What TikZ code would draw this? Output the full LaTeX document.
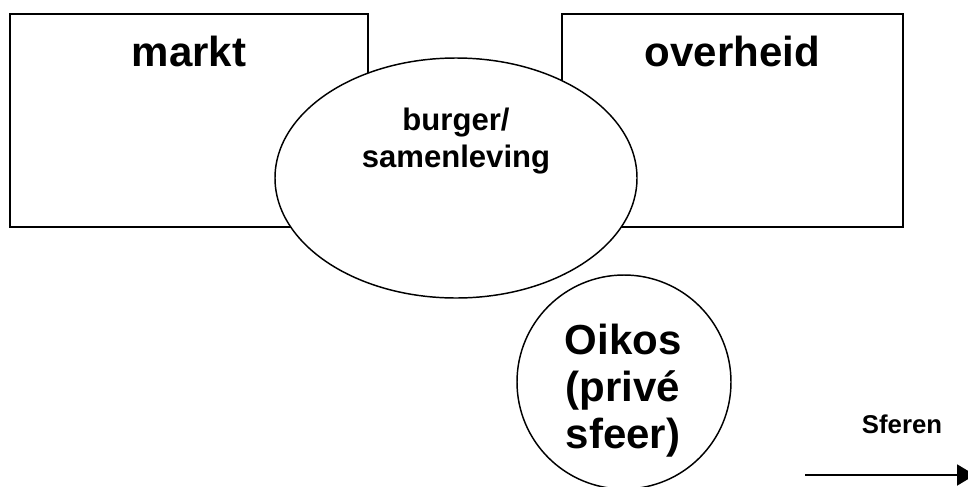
\documentclass[tikz,border=0pt]{standalone}
\usepackage{fontspec}
\setmainfont{Liberation Sans}
\usetikzlibrary{arrows.meta}
\def\grootfont{\fontsize{31.5}{35}\selectfont\bfseries}
\def\middenfont{\fontsize{23.3}{27.5}\selectfont\bfseries}
\def\kleinfont{\fontsize{19.3}{22}\selectfont\bfseries}

\begin{document}
\begin{tikzpicture}[x=0.75pt,y=-0.75pt]
			%%%%% START %%%%%
			\useasboundingbox (0,0) rectangle (968,486);
			
			\draw[line width=1.5pt] (10, 14) rectangle (368, 227);
			\node[anchor=base, font=\grootfont] (markt) at (189, 66) {markt};
			
			\draw[line width=1.5pt] (562, 14) rectangle (903, 227);
			\node[anchor=base, font=\grootfont] (overheid) at (732.5, 66) {overheid};
			
			\draw[line width=1.1pt, fill=white] (456, 178) ellipse (181 and 120);
			\node[anchor=base, align=center, font=\middenfont] (burger) at (456, 167) {burger/\\samenleving};
			
			\draw[line width=1.1pt, fill=white] (624, 382) circle (107);
			\node[anchor=base, align=center, font=\grootfont] (oikos) at (623, 448) {Oikos\\(privé\\sfeer)};
			
			\node[anchor=base, font=\kleinfont] (sferen) at (902, 433) {Sferen};
			\coordinate (pijlbegin) at (805, 475);
			\coordinate (pijleind) at (975, 475);
			\draw[line width=1.5pt, -{Triangle[length=13.5pt, width=15.75pt]}] (pijlbegin) -- (pijleind);
			
			%%%%% END %%%%%
\end{tikzpicture}
\end{document}
